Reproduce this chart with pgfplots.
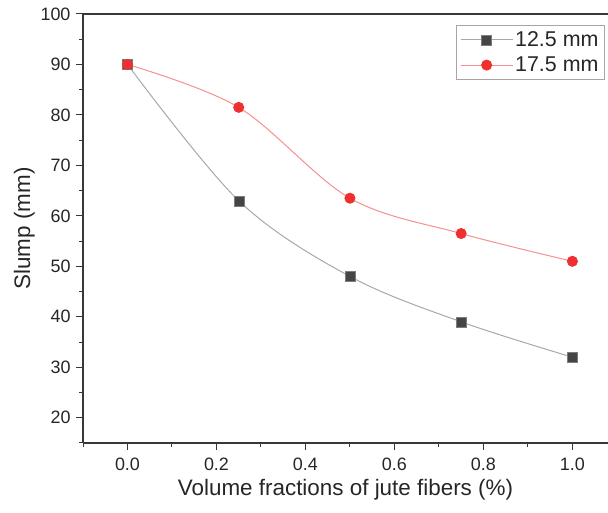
\documentclass[border=0pt]{standalone}
\usepackage{pgfplots}
\pgfplotsset{compat=1.18}
\usepackage{fontspec}
\setmainfont{Liberation Sans}
\definecolor{gline}{HTML}{A8A8A8}
\definecolor{gmark}{HTML}{454545}
\definecolor{rline}{HTML}{F59090}
\definecolor{rmark}{HTML}{EE3030}
\begin{document}
\begin{tikzpicture}
\begin{axis}[
  name=ax,
  scale only axis,
  width=525bp, height=429bp,
  xmin=-0.1, xmax=1.08,
  ymin=15, ymax=100,
  axis x line*=box,
  axis y line*=left,
  axis line style={line width=1.3pt, black!78},
  xtick={0,0.2,0.4,0.6,0.8,1.0},
  ytick={20,30,40,50,60,70,80,90,100},
  minor xtick={-0.1,0.1,0.3,0.5,0.7,0.9},
  minor ytick={15,25,35,45,55,65,75,85,95},
  xtick pos=bottom, ytick pos=left,
  tick align=outside,
  major tick length=7bp, minor tick length=4bp,
  tick style={line width=1pt, black!78},
  /pgf/number format/assume math mode=true,
  x tick label style={/pgf/number format/fixed, /pgf/number format/fixed zerofill, /pgf/number format/precision=1, yshift=-4bp},
  ticklabel style={font=\fontsize{18}{21}\selectfont, text=black!85},
  y tick label style={xshift=-2bp},
  xlabel={Volume fractions of jute fibers (\%)},
  ylabel={Slump (mm)},
  label style={font=\fontsize{22.5}{26}\selectfont, text=black!85},
  xlabel style={yshift=-2bp},
  ylabel style={yshift=-1bp},
  legend style={at={(0.994,0.974)}, anchor=north east, draw=black!35, line width=0.8pt,
    font=\fontsize{21.5}{25}\selectfont, row sep=5bp, inner sep=4bp, text=black!85},
  legend cell align=left,
  legend image code/.code={\draw[mark repeat=2,mark phase=2,#1] plot coordinates {(0bp,0bp) (26bp,0bp) (52bp,0bp)};},
]
\addplot[color=gline, line width=1pt, smooth, tension=0.55, mark=square*,
  mark size=5bp, mark options={fill=gmark, draw=gmark!70!white, line width=0.4pt}]
  coordinates {(0,90) (0.25,63) (0.5,48) (0.75,39) (1.0,32)};
\addlegendentry{12.5 mm}
\addplot[color=rline, line width=1pt, smooth, tension=0.55, mark=*,
  mark size=5bp, mark options={fill=rmark, draw=rmark}]
  coordinates {(0,90) (0.25,81.5) (0.5,63.5) (0.75,56.5) (1.0,51)};
\addlegendentry{17.5 mm}
\end{axis}
\pgfresetboundingbox
\path[use as bounding box] ([xshift=-83bp,yshift=-70bp]ax.south west) rectangle ([yshift=14bp]ax.north east);
\end{tikzpicture}
\end{document}
